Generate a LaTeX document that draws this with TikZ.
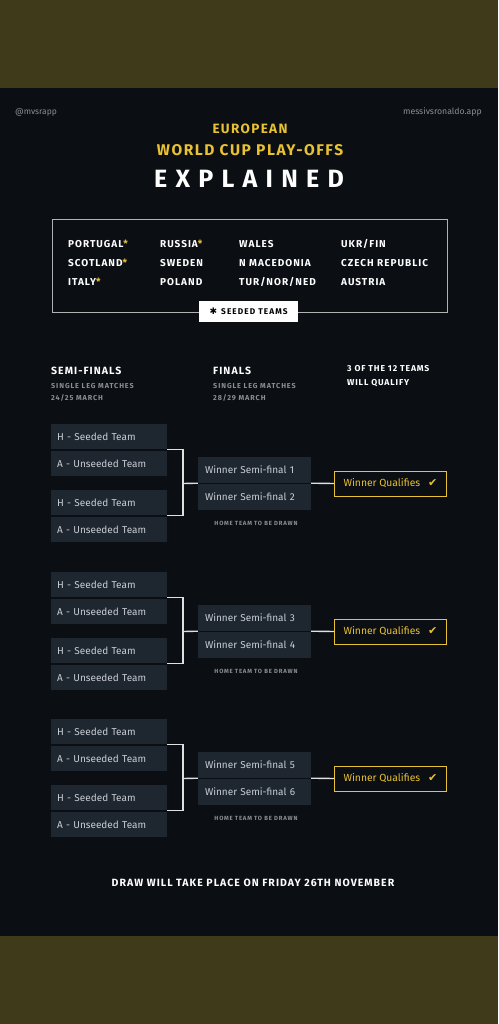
\documentclass[tikz,border=0pt]{standalone}
\usepackage{fontspec}
\setmainfont{Fira Sans}
\newfontfamily\widefont[LetterSpace=10]{Fira Sans}
\newfontfamily\widerfont[LetterSpace=13]{Fira Sans}
\newfontfamily\titlefont[LetterSpace=33]{Fira Sans}
\newfontfamily\symfont{DejaVu Sans}
\definecolor{bg}{HTML}{0B0E13}
\definecolor{olive}{HTML}{3F3A1A}
\definecolor{gold}{HTML}{E8C232}
\definecolor{boxfill}{HTML}{1E2630}
\definecolor{boxtext}{HTML}{C9CED4}
\definecolor{greytext}{HTML}{8C8E92}

\begin{document}
\begin{tikzpicture}[
  x=1pt, y=-1pt,
  every node/.style={
    inner sep=0pt,
    font=\small
  },
  team/.style={
    anchor=west,
    text=white,
    font=\widefont\bfseries\fontsize{10}{11}\selectfont
  },
  head/.style={
    anchor=west,
    text=white,
    font=\widefont\bfseries\fontsize{10.5}{12}\selectfont
  },
  sub/.style={
    anchor=west,
    text=greytext,
    font=\widerfont\bfseries\fontsize{7.2}{8}\selectfont
  },
  semi/.style={
    fill=boxfill,
    text=boxtext,
    minimum height=25pt,
    text width=104pt,
    inner xsep=6pt,
    align=left,
    font=\fontsize{10}{12}\selectfont
  },
  final/.style={
    fill=boxfill,
    text=boxtext,
    minimum height=26pt,
    text width=99pt,
    inner xsep=7pt,
    align=left,
    font=\fontsize{10}{12}\selectfont
  },
  qual/.style={
    draw=gold,
    fill=bg,
    text=gold,
    line width=0.9pt,
    minimum width=112pt,
    minimum height=25pt,
    font=\fontsize{10.3}{12}\selectfont
  },
  note/.style={
    text=greytext,
    font=\widerfont\bfseries\fontsize{6}{7}\selectfont
  },
  bracket/.style={
    draw=white!88!black,
    line width=1.4pt
  }
]
  % background and bands
  \fill[bg] (0,0) rectangle (498,1024);
  \fill[olive] (0,0) rectangle (498,88);
  \fill[olive] (0,936) rectangle (498,1024);

  % header
  \node[anchor=west, text=greytext, font=\fontsize{8.5}{10}\selectfont] (handle) at (15,112) {@mvsrapp};
  \node[anchor=east, text=greytext, font=\fontsize{8.7}{10}\selectfont] (site) at (482,112) {messivsronaldo.app};
  \node[text=gold, font=\widefont\bfseries\fontsize{13.5}{15}\selectfont] (t1) at (250,129) {EUROPEAN};
  \node[text=gold, font=\widefont\bfseries\fontsize{15.5}{17}\selectfont] (t2) at (250,150) {WORLD CUP PLAY-OFFS};
  \node[text=white, font=\titlefont\bfseries\fontsize{25}{28}\selectfont] (t3) at (249,179) {EXPLAINED};

  % teams
  \draw[white!70!black, line width=0.9pt] (52,219) rectangle (447,312);
  \node[team] (p1) at (68,244) {PORTUGAL\textcolor{gold}{*}};
  \node[team] (p2) at (68,263) {SCOTLAND\textcolor{gold}{*}};
  \node[team] (p3) at (68,282) {ITALY\textcolor{gold}{*}};
  \node[team] (p4) at (160,244) {RUSSIA\textcolor{gold}{*}};
  \node[team] (p5) at (160,263) {SWEDEN};
  \node[team] (p6) at (160,282) {POLAND};
  \node[team] (p7) at (239,244) {WALES};
  \node[team] (p8) at (239,263) {N MACEDONIA};
  \node[team] (p9) at (239,282) {TUR/NOR/NED};
  \node[team] (p10) at (341,244) {UKR/FIN};
  \node[team] (p11) at (341,263) {CZECH REPUBLIC};
  \node[team] (p12) at (341,282) {AUSTRIA};
  \node[fill=white, text=black, minimum width=99pt, minimum height=21pt,
    font=\widerfont\bfseries\fontsize{8.3}{9}\selectfont] (seeded) at (248.5,311.5)
    {{\symfont\fontsize{9}{9}\selectfont\char"2731}\enspace SEEDED TEAMS};

  % column heads
  \node[head] (hs) at (51,371) {SEMI-FINALS};
  \node[sub] (hs1) at (51,386) {SINGLE LEG MATCHES};
  \node[sub] (hs2) at (51,398) {24/25 MARCH};
  \node[head] (hf) at (213,371) {FINALS};
  \node[sub] (hf1) at (213,386) {SINGLE LEG MATCHES};
  \node[sub] (hf2) at (213,398) {28/29 MARCH};
  \node[team, font=\widefont\bfseries\fontsize{8.6}{10}\selectfont] (hq1) at (347,369) {3 OF THE 12 TEAMS};
  \node[team, font=\widefont\bfseries\fontsize{8.6}{10}\selectfont] (hq2) at (347,383) {WILL QUALIFY};

  % path 1
  \node[semi] (s1h) at (109,436.5) {H - Seeded Team};
  \node[semi] (s1a) at (109,463.5) {A - Unseeded Team};
  \node[semi] (s2h) at (109,502.5) {H - Seeded Team};
  \node[semi] (s2a) at (109,529.5) {A - Unseeded Team};
  \node[final] (w1) at (254.5,470) {Winner Semi-final 1};
  \node[final] (w2) at (254.5,497) {Winner Semi-final 2};
  \node[qual] (q1) at (390.5,483.5) {Winner Qualifies\hspace{8pt}{\symfont\bfseries\fontsize{11}{11}\selectfont\char"2714}};
  \node[note] (n1) at (256,523) {HOME TEAM TO BE DRAWN};
  \coordinate (j1) at (183,483.5);
  \draw[bracket] (s1h.south east) -| (j1) |- (s2h.south east);
  \draw[bracket] (j1) -- (w1.south west);
  \draw[bracket] (w1.south east) -- (q1.west);

  % path 2
  \node[semi] (s3h) at (109,584.5) {H - Seeded Team};
  \node[semi] (s3a) at (109,611.5) {A - Unseeded Team};
  \node[semi] (s4h) at (109,650.5) {H - Seeded Team};
  \node[semi] (s4a) at (109,677.5) {A - Unseeded Team};
  \node[final] (w3) at (254.5,618) {Winner Semi-final 3};
  \node[final] (w4) at (254.5,645) {Winner Semi-final 4};
  \node[qual] (q2) at (390.5,631.5) {Winner Qualifies\hspace{8pt}{\symfont\bfseries\fontsize{11}{11}\selectfont\char"2714}};
  \node[note] (n2) at (256,671) {HOME TEAM TO BE DRAWN};
  \coordinate (j2) at (183,631.5);
  \draw[bracket] (s3h.south east) -| (j2) |- (s4h.south east);
  \draw[bracket] (j2) -- (w3.south west);
  \draw[bracket] (w3.south east) -- (q2.west);

  % path 3
  \node[semi] (s5h) at (109,731.5) {H - Seeded Team};
  \node[semi] (s5a) at (109,758.5) {A - Unseeded Team};
  \node[semi] (s6h) at (109,797.5) {H - Seeded Team};
  \node[semi] (s6a) at (109,824.5) {A - Unseeded Team};
  \node[final] (w5) at (254.5,765) {Winner Semi-final 5};
  \node[final] (w6) at (254.5,792) {Winner Semi-final 6};
  \node[qual] (q3) at (390.5,778.5) {Winner Qualifies\hspace{8pt}{\symfont\bfseries\fontsize{11}{11}\selectfont\char"2714}};
  \node[note] (n3) at (256,818) {HOME TEAM TO BE DRAWN};
  \coordinate (j3) at (183,778.5);
  \draw[bracket] (s5h.south east) -| (j3) |- (s6h.south east);
  \draw[bracket] (j3) -- (w5.south west);
  \draw[bracket] (w5.south east) -- (q3.west);

  % footer
  \node[text=white, font=\widefont\bfseries\fontsize{10.5}{12}\selectfont] (draw) at (253,883) {DRAW WILL TAKE PLACE ON FRIDAY 26TH NOVEMBER};
\end{tikzpicture}
\end{document}
